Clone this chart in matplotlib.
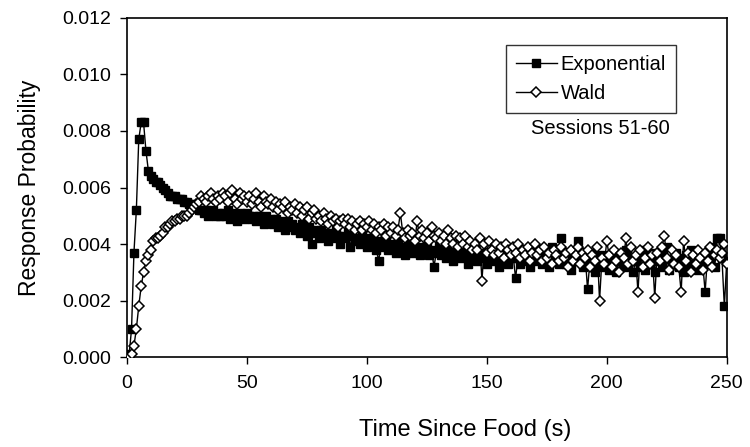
import matplotlib.pyplot as plt
import numpy as np

plt.rcParams['font.family'] = ['Liberation Sans', 'DejaVu Sans']

# time since food, 1 s bins
t = np.arange(0, 251)

# response probability (x 1e-3)
exp_vals = [
    0.0, 0.1, 1.0, 3.7, 5.2, 7.7, 8.3, 8.3, 7.3, 6.6, 6.4,
    6.3, 6.2, 6.2, 6.1, 6.0, 5.9, 5.8, 5.7, 5.7, 5.7,
    5.6, 5.6, 5.6, 5.5, 5.5, 5.4, 5.4, 5.3, 5.3, 5.2,
    5.2, 5.1, 5.2, 5.0, 5.1, 5.2, 5.0, 5.1, 5.0, 5.1,
    5.0, 5.2, 4.9, 5.1, 5.0, 4.8, 5.1, 5.0, 4.9, 5.1,
    5.0, 4.9, 5.0, 4.8, 5.0, 4.9, 4.7, 5.0, 4.8, 4.9,
    4.7, 4.9, 4.6, 4.8, 4.7, 4.5, 4.8, 4.6, 4.7, 4.5,
    4.6, 4.4, 4.7, 4.5, 4.3, 4.6, 4.0, 4.5, 4.4, 4.2,
    4.5, 4.3, 4.4, 4.1, 4.4, 4.2, 4.5, 4.3, 4.0, 4.3,
    4.2, 4.4, 3.9, 4.3, 4.1, 4.2, 4.0, 4.3, 4.1, 3.9,
    4.2, 4.0, 4.1, 3.8, 3.4, 4.1, 3.9, 4.2, 3.8, 4.0,
    3.9, 3.7, 4.1, 3.8, 3.9, 3.6, 4.0, 3.8, 3.7, 3.9,
    3.8, 3.6, 3.9, 3.7, 4.0, 3.6, 3.8, 3.2, 3.7, 3.9,
    3.6, 3.8, 3.5, 3.9, 3.7, 3.4, 3.8, 3.6, 3.5, 3.8,
    3.6, 3.3, 3.7, 3.5, 3.8, 3.4, 3.6, 3.5, 3.7, 3.3,
    3.6, 3.4, 3.8, 3.5, 3.2, 3.6, 3.4, 3.7, 3.3, 3.5,
    3.6, 2.8, 3.5, 3.3, 3.7, 3.4, 3.6, 3.2, 3.5, 3.8,
    3.4, 3.6, 3.3, 3.5, 3.7, 3.2, 3.9, 3.4, 3.6, 3.3,
    4.2, 3.5, 3.3, 3.7, 3.1, 3.6, 3.4, 4.1, 3.5, 3.2,
    3.6, 2.4, 3.4, 3.7, 3.0, 3.5, 3.3, 3.6, 3.2, 3.4,
    3.1, 3.5, 3.7, 3.0, 3.4, 3.6, 3.2, 3.8, 3.3, 3.5,
    3.0, 3.4, 3.6, 3.2, 3.8, 3.1, 3.5, 3.3, 3.7, 3.0,
    3.4, 3.6, 3.2, 3.5, 3.9, 3.1, 3.4, 3.3, 3.7, 3.2,
    3.5, 3.0, 3.6, 3.3, 3.8, 3.2, 3.4, 3.1, 3.5, 3.3,
    2.3, 3.6, 3.4, 3.9, 3.2, 4.2, 4.2, 3.5, 1.8, 3.4,
]

wald_vals = [
    0.0, 0.0, 0.1, 0.4, 1.0, 1.8, 2.5, 3.0, 3.4, 3.6, 3.8,
    4.1, 4.2, 4.2, 4.3, 4.4, 4.6, 4.6, 4.7, 4.8, 4.8,
    4.9, 4.9, 5.0, 5.0, 5.0, 5.1, 5.2, 5.3, 5.4, 5.5,
    5.7, 5.6, 5.5, 5.7, 5.8, 5.6, 5.5, 5.7, 5.6, 5.8,
    5.7, 5.5, 5.8, 5.9, 5.6, 5.4, 5.8, 5.6, 5.7, 5.5,
    5.7, 5.4, 5.6, 5.8, 5.5, 5.3, 5.7, 5.5, 5.4, 5.6,
    5.3, 5.5, 5.2, 5.4, 5.3, 5.5, 5.1, 5.3, 5.2, 5.4,
    5.1, 5.3, 5.0, 5.2, 5.3, 4.9, 5.1, 5.2, 4.9, 5.0,
    4.8, 5.1, 4.9, 4.7, 5.0, 4.8, 4.9, 4.6, 4.8, 4.9,
    4.7, 4.9, 4.6, 4.8, 4.5, 4.7, 4.8, 4.5, 4.7, 4.6,
    4.8, 4.5, 4.7, 4.4, 4.6, 4.5, 4.7, 4.3, 4.6, 4.4,
    4.6, 4.3, 4.5, 5.1, 4.4, 4.2, 4.5, 4.3, 4.4, 4.1,
    4.8, 4.3, 4.5, 4.2, 4.4, 4.1, 4.6, 4.3, 4.2, 4.4,
    4.1, 4.3, 4.0, 4.5, 4.2, 4.0, 4.3, 3.9, 4.2, 4.0,
    4.3, 3.9, 4.1, 3.8, 4.0, 3.8, 4.2, 2.7, 4.0, 3.7,
    4.1, 3.8, 3.6, 4.0, 3.7, 3.9, 3.5, 4.0, 3.8, 3.6,
    3.9, 3.7, 4.0, 3.5, 3.8, 3.6, 3.9, 3.4, 3.7, 4.0,
    3.6, 3.8, 3.4, 3.9, 3.5, 3.7, 3.3, 3.8, 3.6, 3.4,
    3.9, 3.5, 3.7, 3.2, 3.8, 3.4, 3.6, 3.9, 3.3, 3.7,
    3.5, 3.8, 3.2, 3.6, 3.4, 3.9, 2.0, 3.5, 3.3, 4.1,
    3.6, 3.2, 3.8, 3.4, 3.0, 3.7, 3.5, 4.2, 3.3, 3.9,
    3.4, 3.6, 2.3, 3.8, 3.2, 3.5, 3.9, 3.3, 3.6, 2.1,
    3.7, 3.4, 3.9, 4.3, 3.5, 3.1, 3.8, 3.3, 3.6, 3.2,
    2.3, 4.1, 3.4, 3.7, 3.0, 3.6, 3.3, 3.8, 3.5, 3.1,
    3.7, 3.4, 3.9, 3.2, 3.6, 3.8, 3.5, 3.7, 4.0, 3.3,
]

exp_p = np.array(exp_vals) * 1e-3
wald_p = np.array(wald_vals) * 1e-3

fig = plt.figure(figsize=(7.5, 4.47), dpi=100)
ax = fig.add_axes([0.169, 0.201, 0.8, 0.759])

ax.plot(t, exp_p, color='black', lw=1.0, marker='s', ms=6.3,
        mfc='black', mec='black', label='Exponential', zorder=2)
ax.plot(t, wald_p, color='black', lw=1.0, marker='D', ms=5.5,
        mfc='white', mec='black', mew=1.1, label='Wald', zorder=3)

ax.set_xlim(0, 250)
ax.set_ylim(0, 0.012)
ax.set_xticks([0, 50, 100, 150, 200, 250])
ax.set_yticks(np.arange(0, 0.0121, 0.002))
ax.yaxis.set_major_formatter(plt.FormatStrFormatter('%.3f'))
ax.tick_params(labelsize=14, direction='out', length=5, width=1)
ax.tick_params(axis='x', pad=8)
ax.tick_params(axis='y', pad=6)
for s in ax.spines.values():
    s.set_linewidth(1.2)

fig.text(465 / 750, 1 - 430 / 447, 'Time Since Food (s)', fontsize=17,
         ha='center', va='center')
fig.text(30 / 750, 1 - 188 / 447, 'Response Probability', fontsize=16.5,
         ha='center', va='center', rotation=90)

leg = ax.legend(loc='upper right', bbox_to_anchor=(676 / 750, 1 - 45 / 447),
                bbox_transform=fig.transFigure, borderaxespad=0,
                fontsize=14.5, frameon=True, fancybox=False,
                edgecolor='black', handlelength=2.0, handletextpad=0.2,
                borderpad=0.5, labelspacing=0.5)
leg.get_frame().set_linewidth(1.0)

fig.text(600 / 750, 1 - 128 / 447, 'Sessions 51-60', fontsize=14.5,
         ha='center', va='center')

fig.savefig('out.png', dpi=100)
